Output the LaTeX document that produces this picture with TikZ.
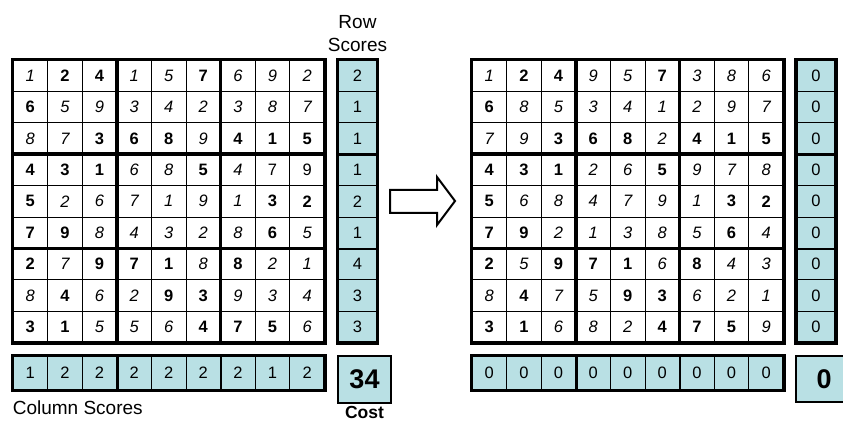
\documentclass[tikz,border=0pt]{standalone}
\usepackage{fontspec}
\setmainfont{Liberation Sans}
\usepackage{xcolor}
\usepackage{tikz}
\usetikzlibrary{positioning}

\definecolor{scorefill}{RGB}{185,224,228}

% one 9x9 board: prefix, left edge, rows of digit/kind
\newcommand{\sudokugrid}[3]{%
  \foreach \rowlist [count=\rw] in {#3} {
    \foreach \num/\kind [count=\col] in \rowlist {
      \node[cell\kind] (#1-\rw-\col) at ({#2+(\col-0.5)*34.6}, {60+(\rw-0.5)*31.4}) {\num};
    }
  }
  \foreach \ra/\rb in {1/3,4/6,7/9}
    \foreach \ca/\cb in {1/3,4/6,7/9}
      \draw[block] (#1-\ra-\ca.north west) rectangle (#1-\rb-\cb.south east);
  \draw[frame] (#1-1-1.north west) rectangle (#1-9-9.south east);
}

\begin{document}
\begin{tikzpicture}[x=1pt,y=-1pt,
    cell/.style={draw, line width=0.8pt, minimum width=34.6pt, minimum height=31.4pt,
      inner sep=0pt, font=\fontsize{16.5}{16.5}\selectfont},
    cellb/.style={cell, font=\fontsize{16.5}{16.5}\selectfont\bfseries},
    celli/.style={cell, font=\fontsize{16.5}{16.5}\selectfont\itshape},
    cellu/.style={cell},
    rowscore/.style={cell, fill=scorefill, minimum width=39pt},
    colscore/.style={cell, fill=scorefill, minimum height=34pt},
    cost/.style={draw, fill=scorefill, line width=2.6pt, inner sep=0pt,
      font=\fontsize{27}{27}\selectfont\bfseries},
    block/.style={line width=2.6pt},
    frame/.style={line width=3.4pt},
    caption/.style={inner sep=0pt, font=\fontsize{19}{23}\selectfont},
    bigarrow/.style={draw, line width=2pt, line join=miter, fill=white}]
  \useasboundingbox (0,0) rectangle (843,422);

  % before
  \sudokugrid{L}{13}{
    {1/i,2/b,4/b,1/i,5/i,7/b,6/i,9/i,2/i},
    {6/b,5/i,9/i,3/i,4/i,2/i,3/i,8/i,7/i},
    {8/i,7/i,3/b,6/b,8/b,9/i,4/b,1/b,5/b},
    {4/b,3/b,1/b,6/i,8/i,5/b,4/i,7/u,9/u},
    {5/b,2/i,6/i,7/i,1/i,9/i,1/i,3/b,2/b},
    {7/b,9/b,8/i,4/i,3/i,2/i,8/i,6/b,5/i},
    {2/b,7/i,9/b,7/b,1/b,8/i,8/b,2/i,1/i},
    {8/i,4/b,6/i,2/i,9/b,3/b,9/i,3/i,4/i},
    {3/b,1/b,5/i,5/i,6/i,4/b,7/b,5/b,6/i}}
  \foreach \s [count=\rw] in {2,1,1,1,2,1,4,3,3}
    \node[rowscore] (Lrow-\rw) at (357.5, {60+(\rw-0.5)*31.4}) {\s};
  \foreach \s [count=\col] in {1,2,2,2,2,2,2,1,2}
    \node[colscore] (Lcol-\col) at ({13+(\col-0.5)*34.6}, 373) {\s};
  \node[cost, minimum width=53pt, minimum height=47pt] (Lcost) at (364.5,379.5) {34};

  % after
  \sudokugrid{R}{472}{
    {1/i,2/b,4/b,9/i,5/i,7/b,3/i,8/i,6/i},
    {6/b,8/i,5/i,3/i,4/i,1/i,2/i,9/i,7/i},
    {7/i,9/i,3/b,6/b,8/b,2/i,4/b,1/b,5/b},
    {4/b,3/b,1/b,2/i,6/i,5/b,9/i,7/i,8/i},
    {5/b,6/i,8/i,4/i,7/i,9/i,1/i,3/b,2/b},
    {7/b,9/b,2/i,1/i,3/i,8/i,5/i,6/b,4/i},
    {2/b,5/i,9/b,7/b,1/b,6/i,8/b,4/i,3/i},
    {8/i,4/b,7/i,5/i,9/b,3/b,6/i,2/i,1/i},
    {3/b,1/b,6/i,8/i,2/i,4/b,7/b,5/b,9/i}}
  \foreach \rw in {1,...,9}
    \node[rowscore] (Rrow-\rw) at (816, {60+(\rw-0.5)*31.4}) {0};
  \foreach \col in {1,...,9}
    \node[colscore] (Rcol-\col) at ({472+(\col-0.5)*34.6}, 373) {0};
  \node[cost, minimum width=56pt, minimum height=46pt] (Rcost) at (824,379) {0};

  % score frames
  \foreach \p in {L,R} {
    \draw[block] (\p row-3.south west) -- (\p row-3.south east);
    \draw[block] (\p row-6.south west) -- (\p row-6.south east);
    \draw[frame] (\p row-1.north west) rectangle (\p row-9.south east);
    \draw[block] (\p col-3.north east) -- (\p col-3.south east);
    \draw[block] (\p col-6.north east) -- (\p col-6.south east);
    \draw[frame] (\p col-1.north west) rectangle (\p col-9.south east);
  }

  % labels
  \node[caption, align=center, above=8pt of Lrow-1] (rowlabel) {Row\\Scores};
  \node[caption, below right=10pt and 0pt of Lcol-1.south west] (collabel) {Column Scores};
  \node[caption, below=2pt of Lcost, font=\fontsize{17.5}{21}\selectfont\bfseries] (costlabel) {Cost};

  % big arrow
  \draw[bigarrow] (390,190) -- (437,190) -- (437,177) -- (455,201)
    -- (437,225) -- (437,213) -- (390,213) -- cycle;
\end{tikzpicture}
\end{document}
